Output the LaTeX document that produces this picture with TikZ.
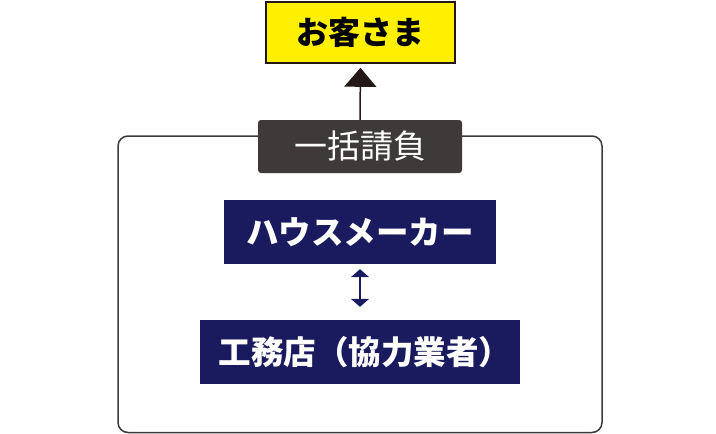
\documentclass[tikz,border=0pt]{standalone}
\usepackage{fontspec}
\setmainfont{Noto Sans CJK JP}
\usetikzlibrary{arrows.meta}
\definecolor{navy}{HTML}{1A1B5E}
\definecolor{labelgray}{HTML}{3E3A39}
\definecolor{yel}{HTML}{FFF000}
\definecolor{framegray}{HTML}{3E3A39}
\definecolor{inkblack}{HTML}{231815}
\tikzset{
  custbox/.style={draw=inkblack, line width=1.6pt, fill=yel, minimum width=189pt, minimum height=61pt, inner sep=0pt, font=\bfseries\fontsize{32}{32}\selectfont},
  tagbox/.style={fill=labelgray, rounded corners=3pt, minimum width=204pt, minimum height=53pt, inner sep=0pt, text=white, font=\fontsize{33}{33}\selectfont},
  navybox/.style={fill=navy, minimum height=64pt, inner sep=0pt, text=white, font=\bfseries\fontsize{32.5}{32.5}\selectfont},
  framebox/.style={draw=framegray, line width=1.5pt, rounded corners=10pt},
  uparrow/.style={draw=inkblack, line width=1.5pt, -{Triangle[length=19pt,width=32pt]}},
  dblarrow/.style={draw=navy, line width=1.6pt, {Triangle[length=8pt,width=18pt]}-{Triangle[length=8pt,width=18pt]}}
}
\begin{document}
\begin{tikzpicture}[x=1pt,y=-1pt]
\useasboundingbox (0,0) rectangle (716,434);
\draw[framebox] (118,136) rectangle (602,432.5);
\node[custbox] (cust) at (360.5,32.5) {お客さま};
\node[tagbox] (tag) at (360,146.5) {一括請負};
\node[navybox, minimum width=272pt] (hm) at (360,232) {ハウスメーカー};
\node[navybox, minimum width=320pt] (kt) at (360,352) {\hspace*{10pt}工務店（協力業者）};
\draw[uparrow, shorten >=4pt] (tag.north) -- (cust.south);
\draw[dblarrow, shorten <=5pt, shorten >=13pt] (hm.south) -- (kt.north);
\end{tikzpicture}
\end{document}
